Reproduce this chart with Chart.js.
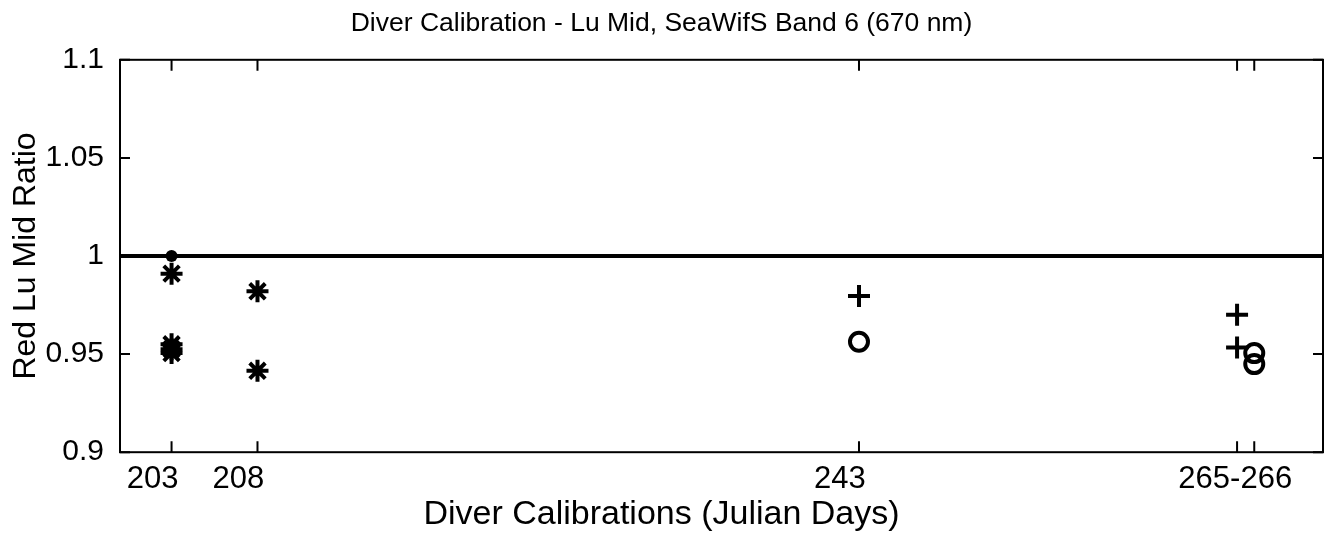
<!DOCTYPE html>
<html>
<head>
<meta charset="utf-8">
<script src="https://cdn.jsdelivr.net/npm/chart.js@4/dist/chart.umd.min.js"></script>
<style>
  html, body { margin: 0; padding: 0; background: #fff; }
</style>
</head>
<body>
<canvas id="chart" width="1326" height="536"></canvas>
<script>
  // axis ticks (the 265-266 label sits on the 266 tick, shifted left like the original)
  var dayTicks = [203, 208, 243, 265, 266];
  var dayLabels = ['203', '208', '243', '', '265-266'];
  var ratioTicks = [0.9, 0.95, 1, 1.05, 1.1];

  var starDays = [203, 203, 203, 203, 208, 208];
  var starRatios = [0.991, 0.955, 0.9525, 0.9505, 0.982, 0.9415];
  var plusDays = [243, 265, 265];
  var plusRatios = [0.9796, 0.970, 0.9534];
  var circleDays = [243, 266, 266];
  var circleRatios = [0.9563, 0.9505, 0.9449];
  var dotDays = [203];
  var dotRatios = [1.0];
  var refDays = [200, 270];
  var refRatios = [1, 1];

  var toPoints = function(xs, ys) {
    return xs.map(function(x, i) { return { x: x, y: ys[i] }; });
  };

  Chart.defaults.font.family = '"Liberation Sans", Arial, Helvetica, sans-serif';
  Chart.defaults.color = '#000';

  // matlab-ish box with inward tick marks
  var boxTicks = {
    id: 'boxTicks',
    beforeDatasetsDraw: function(chart) {
      var ctx = chart.ctx;
      var a = chart.chartArea;
      var xs = chart.scales.x;
      var ys = chart.scales.y;
      ctx.save();
      ctx.strokeStyle = '#000';
      ctx.lineWidth = 2;
      ctx.strokeRect(a.left, a.top, a.right - a.left, a.bottom - a.top);
      xs.ticks.forEach(function(t) {
        var px = xs.getPixelForValue(t.value);
        ctx.beginPath();
        ctx.moveTo(px, a.bottom); ctx.lineTo(px, a.bottom - 11);
        ctx.moveTo(px, a.top); ctx.lineTo(px, a.top + 11);
        ctx.stroke();
      });
      ys.ticks.forEach(function(t) {
        var py = ys.getPixelForValue(t.value);
        ctx.beginPath();
        ctx.moveTo(a.left, py); ctx.lineTo(a.left + 10, py);
        ctx.moveTo(a.right, py); ctx.lineTo(a.right - 10, py);
        ctx.stroke();
      });
      ctx.restore();
    }
  };

  var markerSet = function(xs, ys, style, radius, width) {
    return {
      type: 'scatter',
      data: toPoints(xs, ys),
      pointStyle: style,
      pointRadius: radius,
      pointHoverRadius: radius,
      pointBorderWidth: width,
      pointBorderColor: '#000',
      pointBackgroundColor: 'rgba(0,0,0,0)'
    };
  };

  var dot = markerSet(dotDays, dotRatios, 'circle', 6, 0);
  dot.pointBackgroundColor = '#000';

  new Chart(document.getElementById('chart'), {
    type: 'scatter',
    data: {
      datasets: [
        {
          type: 'line',
          data: toPoints(refDays, refRatios),
          borderColor: '#000',
          borderWidth: 4,
          pointRadius: 0
        },
        dot,
        markerSet(starDays, starRatios, 'star', 11, 4),
        markerSet(plusDays, plusRatios, 'cross', 11, 4),
        markerSet(circleDays, circleRatios, 'circle', 9, 4)
      ]
    },
    options: {
      responsive: false,
      animation: false,
      layout: { autoPadding: false, padding: { left: 0, right: 3, top: 0, bottom: 0 } },
      plugins: {
        legend: { display: false },
        tooltip: { enabled: false },
        title: {
          display: true,
          text: 'Diver Calibration - Lu Mid, SeaWifS Band 6 (670 nm)',
          font: { size: 26.5, weight: 'normal' },
          color: '#000',
          padding: { top: 8, bottom: 20 }
        },
        subtitle: {
          display: true,
          position: 'bottom',
          text: 'Diver Calibrations (Julian Days)',
          font: { size: 34, weight: 'normal' },
          color: '#000',
          padding: { top: 0, bottom: 1 }
        }
      },
      scales: {
        x: {
          type: 'linear',
          min: 200,
          max: 270,
          grid: { display: false, drawTicks: false },
          border: { display: false },
          afterBuildTicks: function(scale) {
            scale.ticks = dayTicks.map(function(v) { return { value: v }; });
          },
          afterFit: function(scale) {
            scale.height = 42;
            scale.paddingLeft = 0;
            scale.paddingRight = 0;
          },
          ticks: {
            autoSkip: false,
            maxRotation: 0,
            padding: 9,
            labelOffset: -19,
            font: { size: 31 },
            callback: function(v) { return dayLabels[dayTicks.indexOf(v)]; }
          }
        },
        y: {
          min: 0.9,
          max: 1.1,
          grid: { display: false, drawTicks: false },
          border: { display: false },
          afterBuildTicks: function(scale) {
            scale.ticks = ratioTicks.map(function(v) { return { value: v }; });
          },
          afterFit: function(scale) { scale.width = 120; },
          title: {
            display: true,
            text: 'Red Lu Mid Ratio',
            font: { size: 32 },
            padding: { top: 7, bottom: 0 }
          },
          ticks: {
            padding: 16,
            font: { size: 30 },
            callback: function(v) { return String(+v.toFixed(2)); }
          }
        }
      }
    },
    plugins: [boxTicks]
  });
</script>
</body>
</html>
